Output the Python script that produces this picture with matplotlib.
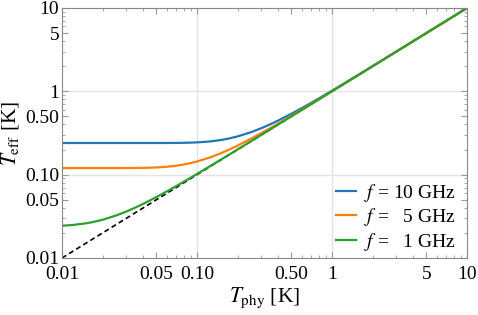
import numpy as np
import matplotlib.pyplot as plt
from matplotlib.ticker import FixedLocator, NullFormatter, LogLocator

plt.rcParams['font.family'] = ['Liberation Serif', 'DejaVu Serif']
plt.rcParams['mathtext.fontset'] = 'stix'

# T_phy [K] sample points, T_eff [K]
t_phy = [0.01, 0.012, 0.015, 0.017, 0.02, 0.025, 0.03, 0.035, 0.04, 0.05, 0.06, 0.07, 0.08, 0.09,
         0.1, 0.12, 0.13, 0.15, 0.17, 0.2, 0.25, 0.3, 0.35, 0.4, 0.5, 0.6, 0.7, 0.8, 1, 1.5, 2, 3, 5, 10]
teff_10 = [0.24, 0.24, 0.24, 0.24, 0.24, 0.24, 0.24, 0.24, 0.24, 0.24, 0.24, 0.2403, 0.2412, 0.2423,
           0.244, 0.249, 0.2523, 0.2604, 0.2703, 0.2879, 0.3225, 0.3614, 0.4032, 0.447, 0.538, 0.6317, 0.727, 0.8238,
           1.019, 1.5128, 2.0096, 3.0064, 5.0038, 10.002]
teff_5 = [0.12, 0.12, 0.12, 0.12, 0.12, 0.12, 0.1201, 0.1203, 0.1206, 0.122, 0.1245, 0.128, 0.1326, 0.1379,
          0.1439, 0.1576, 0.1650, 0.1807, 0.1973, 0.2234, 0.269, 0.3158, 0.3635, 0.4119, 0.5096, 0.608, 0.7068, 0.806,
          1.0048, 1.5016, 2.0024, 3.0008, 5.001, 10.0]
teff_1 = [0.0244, 0.0249, 0.02604, 0.02703, 0.02879, 0.03225, 0.03614, 0.04032, 0.0447, 0.0538, 0.06317, 0.0727,
          0.08238, 0.0921, 0.1019, 0.1216, 0.1315, 0.1513, 0.1711, 0.201, 0.2508, 0.3006, 0.3505, 0.4005, 0.5004,
          0.6003, 0.7003, 0.8002, 1.0002, 1.5, 2.0, 3.0, 5.0, 10.0]
labels = [r'$f$ = 10 GHz', r'$f$ =   5 GHz', r'$f$ =   1 GHz']
colors = ['#1f77b4', '#ff7f0e', '#2ca02c']
ticks = [0.01, 0.05, 0.1, 0.5, 1, 5, 10]
tick_labels = ['0.01', '0.05', '0.10', '0.50', '1', '5', '10']

fig = plt.figure(figsize=(4.78, 3.15), dpi=100)
ax = fig.add_axes([62/478, 1 - 258/315, (467-62)/478, (258-8)/315])

ax.plot(t_phy, t_phy, color='black', lw=1.2, ls=(0, (3, 2)), zorder=1)
for y, lab, c in zip([teff_10, teff_5, teff_1], labels, colors):
    ax.plot(t_phy, y, color=c, lw=1.6, label=lab, zorder=2)

ax.set_xscale('log')
ax.set_yscale('log')
ax.set_xlim(0.01, 10)
ax.set_ylim(0.01, 10)
for axis in (ax.xaxis, ax.yaxis):
    axis.set_major_locator(FixedLocator(ticks))
    axis.set_minor_locator(LogLocator(base=10, subs=np.arange(1, 10)))
    axis.set_minor_formatter(NullFormatter())
ax.set_xticklabels(tick_labels)
ax.set_yticklabels(tick_labels)
ax.tick_params(which='both', direction='in', top=True, right=True, color='#999999', labelsize=14)
ax.tick_params(which='major', length=4, pad=2)
ax.tick_params(axis='x', which='major', pad=5.5)
ax.tick_params(which='minor', length=2)
for s in ax.spines.values():
    s.set_color('#888888')

for g in (0.1, 1):
    ax.axvline(g, color='#e3e3e3', lw=1, zorder=0)
    ax.axhline(g, color='#e3e3e3', lw=1, zorder=0)

ax.set_xlabel(r'$T_{\rm phy}$ [K]', fontsize=15.5, labelpad=2)
ax.set_ylabel(r'$T_{\rm eff}$ [K]', fontsize=15.5, labelpad=3)
ax.legend(loc='lower right', bbox_to_anchor=(1.0, -0.025), frameon=False, fontsize=14, handlelength=1.0,
          handletextpad=0.4, labelspacing=0.12, borderaxespad=0.2)

fig.savefig('out.png', dpi=100)
